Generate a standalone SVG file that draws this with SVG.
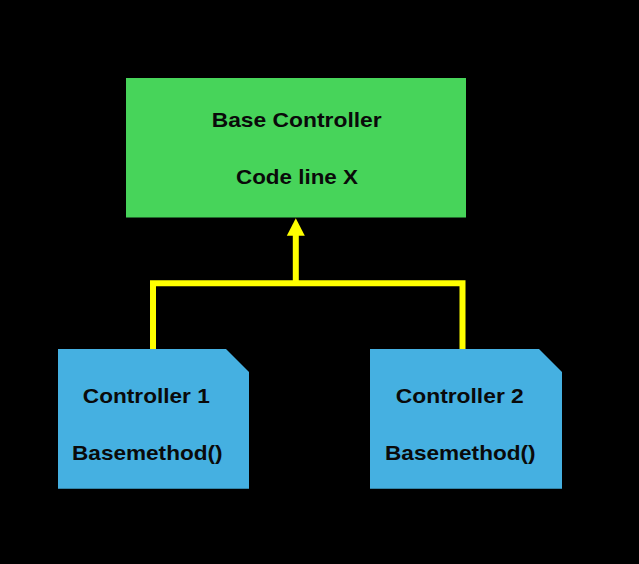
<svg xmlns="http://www.w3.org/2000/svg" width="639" height="564" viewBox="0 0 639 564">
<style>
.lbl{font-family:"Liberation Sans",Arial,sans-serif;font-weight:bold;font-size:21px;fill:#0a0a0a}
.conn{fill:none;stroke:#FFFF00;stroke-width:6}
.head{fill:#FFFF00}
.ctrl{fill:#45B0E1}
</style>
<rect width="639" height="564" fill="#000"/>
<g id="base">
<rect x="126" y="78" width="340" height="139.5" fill="#47D45A"/>
<text class="lbl" x="296.7" y="126.7" text-anchor="middle" textLength="170" lengthAdjust="spacingAndGlyphs">Base Controller</text>
<text class="lbl" x="297" y="184.3" text-anchor="middle" textLength="122" lengthAdjust="spacingAndGlyphs">Code line X</text>
</g>
<g id="ctrl1">
<path class="ctrl" d="M58,349 H226 L249,372 V488.7 H58 Z"/>
<text class="lbl" x="146.3" y="402.7" text-anchor="middle" textLength="127" lengthAdjust="spacingAndGlyphs">Controller 1</text>
<text class="lbl" x="147.3" y="460.3" text-anchor="middle" textLength="150.5" lengthAdjust="spacingAndGlyphs">Basemethod()</text>
</g>
<g id="ctrl2">
<path class="ctrl" d="M370,349 H539 L562,372 V488.7 H370 Z"/>
<text class="lbl" x="459.8" y="402.7" text-anchor="middle" textLength="128" lengthAdjust="spacingAndGlyphs">Controller 2</text>
<text class="lbl" x="460.3" y="460.3" text-anchor="middle" textLength="150.5" lengthAdjust="spacingAndGlyphs">Basemethod()</text>
</g>
<g id="connectors">
<polyline class="conn" points="153,349 153,283.3 462.5,283.3 462.5,349"/>
<line class="conn" x1="295.8" y1="286" x2="295.8" y2="234"/>
<polygon class="head" points="295.8,218.3 286.8,235.7 304.8,235.7"/>
</g>
</svg>
